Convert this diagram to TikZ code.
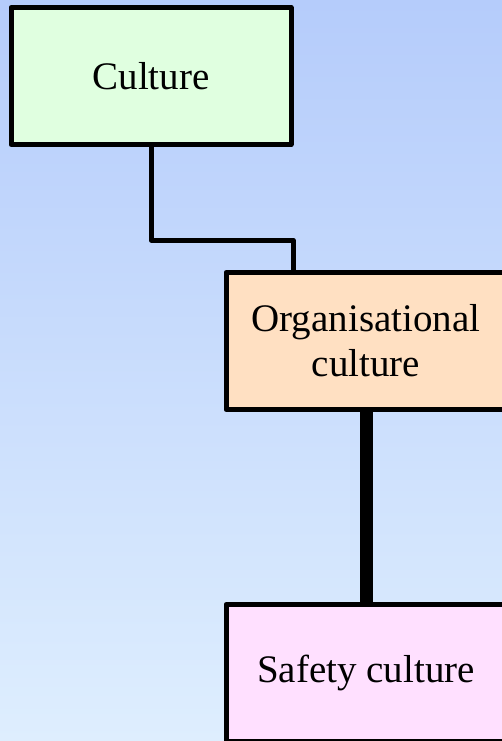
\documentclass[tikz,border=0pt]{standalone}
\usepackage{fontspec}
\setmainfont{Liberation Serif}
\definecolor{bgtop}{HTML}{B5CCFB}
\definecolor{bgbot}{HTML}{DEEEFE}
\definecolor{greenbox}{HTML}{E0FFE0}
\definecolor{peachbox}{HTML}{FFE0C2}
\definecolor{pinkbox}{HTML}{FFE0FF}
\begin{document}
\begin{tikzpicture}[x=1pt,y=-1pt,
  box/.style={draw,line width=5pt,line join=round,minimum width=280pt,minimum height=137pt,
    inner sep=0pt,align=center,font=\fontsize{39}{45}\selectfont},
  link/.style={line width=5pt,line join=round}]
\clip (0,0) rectangle (502,741); % page size
\shade[top color=bgtop,bottom color=bgbot] (0,0) rectangle (502,741);
\node[box,fill=greenbox] (culture) at (151,76) {Culture};
\node[box,fill=peachbox] (org) at (366,341) {Organisational\\culture};
\node[box,fill=pinkbox] (safety) at (366,673) {Safety culture};
\coordinate (elbow) at (293,240); % edit here for the step
\draw[link] (culture.south) |- (elbow) -- (elbow |- org.north);
\draw[line width=13pt] (org.south) -- (safety.north);
\end{tikzpicture}
\end{document}
